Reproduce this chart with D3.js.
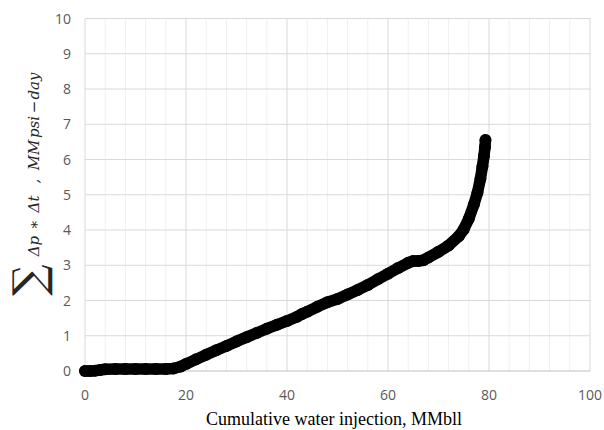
<!DOCTYPE html>
<html>
<head>
<meta charset="utf-8">
<script src="https://cdn.jsdelivr.net/npm/d3@7"></script>
<style>
  body { margin: 0; background: #fff; }
  .tick-label { font-family: "Open Sans", sans-serif; font-size: 14px; fill: #595959; }
  .x-title { font-family: "Liberation Serif", serif; font-size: 18px; fill: #000; }
  .y-title { font-family: "DejaVu Serif", serif; font-style: italic; font-size: 15px; fill: #262626; }
</style>
</head>
<body>
<svg class="chart"></svg>
<script>
// cumulative water injection, MMbll
const injection = [0, 1, 2, 3, 4, 6, 8, 10, 12, 14, 16, 17.5, 19, 20, 22, 24, 26, 28, 30, 32, 34, 36, 38, 40,
  42, 43, 44, 46, 48, 50, 52, 54, 56, 58, 60, 62, 64, 65, 66, 67, 68, 70, 72, 74, 75, 76, 77, 77.7, 78.3, 78.7,
  79.0, 79.2, 79.3];
// sum of dp*dt, MM psi-day
const pressureDays = [0, 0, 0.01, 0.03, 0.05, 0.06, 0.06, 0.06, 0.06, 0.06, 0.06, 0.07, 0.13, 0.2, 0.33, 0.46,
  0.59, 0.71, 0.84, 0.96, 1.08, 1.2, 1.31, 1.42, 1.54, 1.62, 1.68, 1.82, 1.95, 2.04, 2.17, 2.3, 2.44, 2.6, 2.76,
  2.92, 3.07, 3.12, 3.12, 3.14, 3.22, 3.38, 3.56, 3.82, 4.02, 4.32, 4.72, 5.05, 5.45, 5.8, 6.1, 6.35, 6.55];
const xTicks = [0, 20, 40, 60, 80, 100];
const yTicks = [0, 1, 2, 3, 4, 5, 6, 7, 8, 9, 10];
const xMinorStep = 4;
// y title pieces (math-style spacing), with their centre along the axis
const yTitleTokens = ['Δp', '∗', 'Δt', ',', 'MM', 'psi', '−', 'day'];
const yTitleCentres = [246, 225, 204, 181, 155, 127, 107, 86];

const points = injection.map((x, i) => ({ x, y: pressureDays[i] }));

const width = 604;
const height = 430;
const plot = { left: 85, right: 590, top: 18.5, bottom: 371 };

const svg = d3.select('.chart')
  .attr('width', width)
  .attr('height', height);

const x = d3.scaleLinear().domain([0, 100]).range([plot.left, plot.right]);
const y = d3.scaleLinear().domain([0, 10]).range([plot.bottom, plot.top]);

// gridlines
const minorX = d3.range(0, 100 + 0.001, xMinorStep).filter(v => v % 20 !== 0);
svg.append('g').selectAll('line')
  .data(minorX)
  .enter()
  .append('line')
  .attr('x1', d => x(d)).attr('x2', d => x(d))
  .attr('y1', plot.top).attr('y2', plot.bottom)
  .attr('stroke', '#efefef')
  .attr('stroke-width', 1);

svg.append('g').selectAll('line')
  .data(xTicks)
  .enter()
  .append('line')
  .attr('x1', d => x(d)).attr('x2', d => x(d))
  .attr('y1', plot.top).attr('y2', plot.bottom)
  .attr('stroke', '#d9d9d9')
  .attr('stroke-width', 1);

svg.append('g').selectAll('line')
  .data(yTicks)
  .enter()
  .append('line')
  .attr('x1', plot.left).attr('x2', plot.right)
  .attr('y1', d => y(d)).attr('y2', d => y(d))
  .attr('stroke', d => (d === 0 ? '#bfbfbf' : '#d9d9d9'))
  .attr('stroke-width', 1);

// tick labels
svg.append('g').selectAll('text')
  .data(yTicks)
  .enter()
  .append('text')
  .classed('tick-label', true)
  .attr('x', 71)
  .attr('y', d => y(d))
  .attr('dy', '0.36em')
  .attr('text-anchor', 'end')
  .text(d => d);

svg.append('g').selectAll('text')
  .data(xTicks)
  .enter()
  .append('text')
  .classed('tick-label', true)
  .attr('x', d => x(d))
  .attr('y', 400)
  .attr('text-anchor', 'middle')
  .text(d => d);

// data: dense markers drawn as a thick band
const line = d3.line().x(d => x(d.x)).y(d => y(d.y));
svg.append('path')
  .datum(points)
  .attr('d', line)
  .attr('fill', 'none')
  .attr('stroke', '#000')
  .attr('stroke-width', 11.5)
  .attr('stroke-linejoin', 'round')
  .attr('stroke-linecap', 'round');

svg.append('g').selectAll('circle')
  .data(points)
  .enter()
  .append('circle')
  .attr('cx', d => x(d.x))
  .attr('cy', d => y(d.y))
  .attr('r', 6)
  .attr('fill', '#000');

// axis titles
svg.append('text')
  .classed('x-title', true)
  .attr('x', 334)
  .attr('y', 425)
  .attr('text-anchor', 'middle')
  .text('Cumulative water injection, MMbll');

const yTitle = svg.append('g').attr('transform', 'rotate(-90)');
yTitle.append('text')
  .attr('x', -280)
  .attr('y', 28)
  .attr('text-anchor', 'middle')
  .attr('dominant-baseline', 'central')
  .style('font-family', '"DejaVu Serif", serif')
  .style('font-size', '44px')
  .style('fill', '#262626')
  .text('∑');
yTitle.selectAll('text.y-title')
  .data(yTitleTokens)
  .enter()
  .append('text')
  .classed('y-title', true)
  .attr('x', (d, i) => -yTitleCentres[i])
  .attr('y', 39)
  .attr('text-anchor', 'middle')
  .text(d => d);
</script>
</body>
</html>
